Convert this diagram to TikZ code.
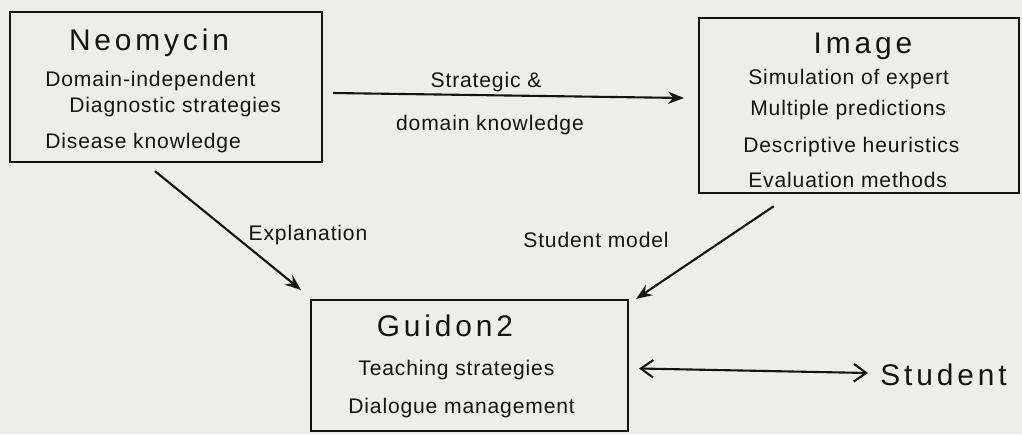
\documentclass[tikz,border=0pt]{standalone}
\usepackage{fontspec}
\setmainfont{Liberation Sans}[LetterSpace=4]
\newfontfamily\titlefont{Liberation Sans}[LetterSpace=13]
\usetikzlibrary{arrows.meta}
\definecolor{paper}{HTML}{EDEDEB}
\definecolor{ink}{HTML}{141414}
\begin{document}
\begin{tikzpicture}[x=0.02cm, y=-0.02cm,
        box/.style={rectangle, draw=ink, line width=1.3pt, inner sep=0pt},
        head/.style={anchor=base, inner sep=0pt, font=\titlefont\fontsize{17}{20}\selectfont, text=ink},
        item/.style={anchor=base west, inner sep=0pt, font=\fontsize{12}{14}\selectfont, text=ink},
        lbl/.style={anchor=base, inner sep=0pt, font=\fontsize{12}{14}\selectfont, text=ink},
        arr/.style={draw=ink, line width=1.2pt, -{Stealth[length=9pt, width=7pt]}}
    ]
        \fill[paper] (0,0) rectangle (1022,434);
        \useasboundingbox (0,0) rectangle (1022,434);

        % boxes
        \node[box, minimum width=6.24cm, minimum height=3.0cm] (neo) at (166,87) {};
        \node[box, minimum width=6.4cm, minimum height=3.5cm] (img) at (859,105.5) {};
        \node[box, minimum width=6.34cm, minimum height=2.62cm] (gui) at (469.5,365.5) {};

        % Neomycin
        \node[head] (neot) at (149,50) {Neomycin};
        \node[item] (neo1) at (45,86) {Domain-independent};
        \node[item] (neo2) at (69,112) {Diagnostic strategies};
        \node[item] (neo3) at (45,148) {Disease knowledge};

        % Image
        \node[head] (imgt) at (863,53) {Image};
        \node[item] (img1) at (748,84) {Simulation of expert};
        \node[item] (img2) at (750,115) {Multiple predictions};
        \node[item] (img3) at (743,152) {Descriptive heuristics};
        \node[item] (img4) at (748,187) {Evaluation methods};

        % Guidon2
        \node[head] (guit) at (445,336) {Guidon2};
        \node[item] (gui1) at (358,375) {Teaching strategies};
        \node[item] (gui2) at (348,413) {Dialogue management};

        \node[head, anchor=base west] (stu) at (880,385) {Student};

        % connectors
        \draw[arr] ([shift={(10,6)}]neo.east) -- ([shift={(-14,-7.5)}]img.west);
        \draw[arr] ([shift={(-11,8)}]neo.south) -- ([shift={(-9,-9)}]gui.north west);
        \draw[arr] ([shift={(76,12)}]img.south west) -- ([shift={(7,0)}]gui.north east);
        \draw[draw=ink, line width=1.2pt, {Straight Barb[length=7pt, width=10pt]}-{Straight Barb[length=7pt, width=10pt]}]
            ([shift={(10,3)}]gui.east) -- ([shift={(-12,-12)}]stu.base west);

        \node[lbl] (l1) at (486,87) {Strategic \&};
        \node[lbl] (l2) at (490,130) {domain knowledge};
        \node[lbl] (l3) at (308,240) {Explanation};
        \node[lbl] (l4) at (596,247) {Student model};
    \end{tikzpicture}
\end{document}
